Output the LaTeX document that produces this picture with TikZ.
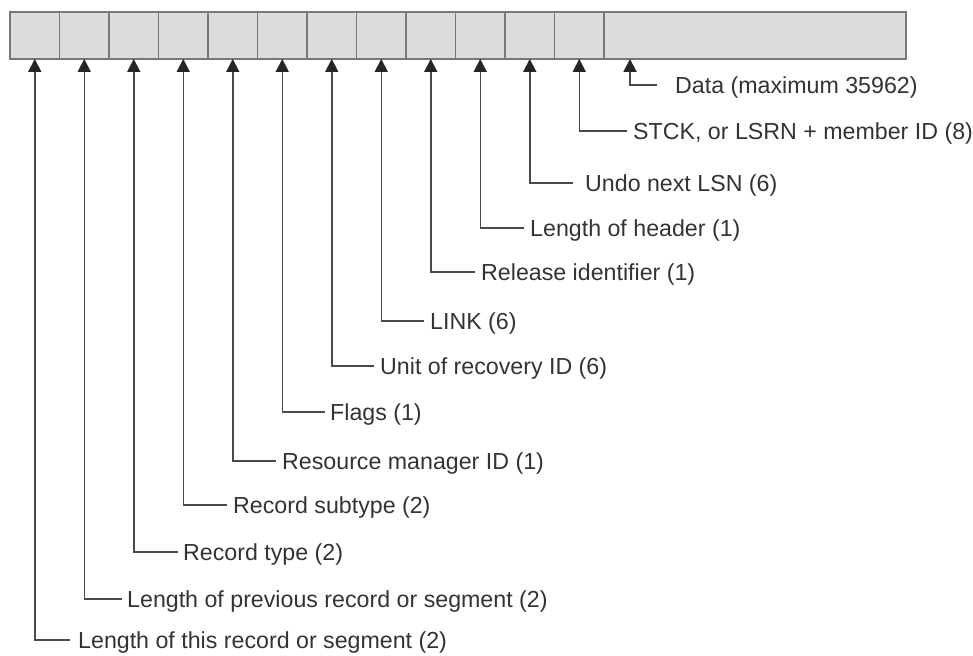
\documentclass[tikz,border=0pt]{standalone}
\usepackage{fontspec}
\setmainfont{Liberation Sans}
\usetikzlibrary{arrows.meta}
\definecolor{cellfill}{HTML}{DCDCDC}
\definecolor{cellline}{HTML}{787878}
\definecolor{connline}{HTML}{4A4A4A}
\definecolor{txt}{HTML}{333333}
\tikzset{
  cell/.style={rectangle, draw=cellline, fill=cellfill, line width=1.4pt,
    minimum width=49.5pt, minimum height=47pt, inner sep=0pt, outer sep=0pt},
  lbl/.style={anchor=base west, inner sep=0pt, text=txt,
    font=\fontsize{23.2}{28}\selectfont},
  conn/.style={draw=connline, line width=1.5pt,
    {Triangle[width=13.5pt,length=13pt,color=black!85,line width=0pt]}-},
}
\begin{document}
\begin{tikzpicture}[x=1pt,y=-1pt]
\useasboundingbox (0,0) rectangle (973,655);
% cells
\node[cell] (c1) at (34.75,35.5) {};
\node[cell] (c2) at (84.25,35.5) {};
\node[cell] (c3) at (133.75,35.5) {};
\node[cell] (c4) at (183.25,35.5) {};
\node[cell] (c5) at (232.75,35.5) {};
\node[cell] (c6) at (282.25,35.5) {};
\node[cell] (c7) at (331.75,35.5) {};
\node[cell] (c8) at (381.25,35.5) {};
\node[cell] (c9) at (430.75,35.5) {};
\node[cell] (c10) at (480.25,35.5) {};
\node[cell] (c11) at (529.75,35.5) {};
\node[cell] (c12) at (579.25,35.5) {};
\node[cell, minimum width=302pt] (c13) at (755,35.5) {};
\coordinate (dtip) at (630,59);
% labels
\node[lbl] (l13) at (675,93.3) {Data (maximum 35962)};
\node[lbl] (l12) at (633,139.3) {STCK, or LSRN + member ID (8)};
\node[lbl] (l11) at (585,191.3) {Undo next LSN (6)};
\node[lbl] (l10) at (530,236.3) {Length of header (1)};
\node[lbl] (l9) at (481,280.3) {Release identifier (1)};
\node[lbl] (l8) at (430,329.3) {LINK (6)};
\node[lbl] (l7) at (380,374.3) {Unit of recovery ID (6)};
\node[lbl] (l6) at (330,420.3) {Flags (1)};
\node[lbl] (l5) at (282,469.3) {Resource manager ID (1)};
\node[lbl] (l4) at (233,513.3) {Record subtype (2)};
\node[lbl] (l3) at (183,560.3) {Record type (2)};
\node[lbl] (l2) at (127,607.3) {Length of previous record or segment (2)};
\node[lbl] (l1) at (78,648.3) {Length of this record or segment (2)};
% connectors
\draw[conn] (dtip) |- ([xshift=-18pt,yshift=8.3pt]l13.base west);
\draw[conn] (c12.south) |- ([xshift=-6pt,yshift=8.3pt]l12.base west);
\draw[conn] (c11.south) |- ([xshift=-12pt,yshift=8.3pt]l11.base west);
\draw[conn] (c10.south) |- ([xshift=-6pt,yshift=8.3pt]l10.base west);
\draw[conn] (c9.south) |- ([xshift=-6pt,yshift=8.3pt]l9.base west);
\draw[conn] (c8.south) |- ([xshift=-6pt,yshift=8.3pt]l8.base west);
\draw[conn] (c7.south) |- ([xshift=-6pt,yshift=8.3pt]l7.base west);
\draw[conn] (c6.south) |- ([xshift=-5pt,yshift=8.3pt]l6.base west);
\draw[conn] (c5.south) |- ([xshift=-6pt,yshift=8.3pt]l5.base west);
\draw[conn] (c4.south) |- ([xshift=-6pt,yshift=8.3pt]l4.base west);
\draw[conn] (c3.south) |- ([xshift=-5pt,yshift=8.3pt]l3.base west);
\draw[conn] (c2.south) |- ([xshift=-5pt,yshift=8.3pt]l2.base west);
\draw[conn] (c1.south) |- ([xshift=-8pt,yshift=8.3pt]l1.base west);
\end{tikzpicture}
\end{document}
